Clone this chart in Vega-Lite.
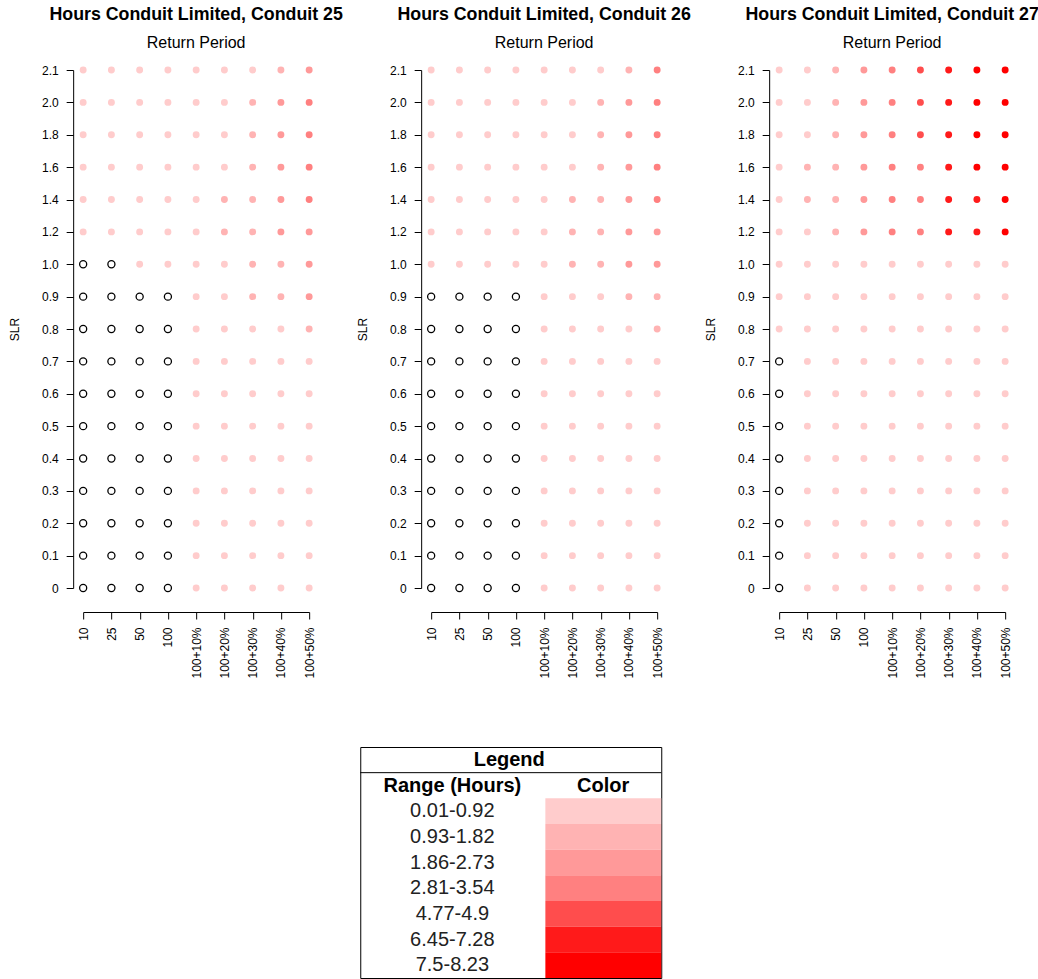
{
  "$schema": "https://vega.github.io/schema/vega-lite/v6.json",
  "background": "white",
  "padding": {"left": 8, "top": 6, "right": 0, "bottom": 0},
  "config": {
    "view": {"stroke": null},
    "font": "Liberation Sans",
    "axis": {"labelColor": "black", "titleColor": "black", "domainColor": "black", "tickColor": "black", "grid": false, "labelFontSize": 12, "titleFontSize": 12, "titleFontWeight": "normal", "tickSize": 7},
    "title": {"color": "black", "subtitleColor": "black", "fontSize": 17.8, "subtitleFontSize": 16, "anchor": "middle", "subtitlePadding": 11, "offset": 13}
  },
  "datasets": {
    "c25": [
      {"slr":"2.1","rp":"10","cls":1},{"slr":"2.1","rp":"25","cls":1},{"slr":"2.1","rp":"50","cls":1},{"slr":"2.1","rp":"100","cls":1},{"slr":"2.1","rp":"100+10%","cls":1},{"slr":"2.1","rp":"100+20%","cls":1},{"slr":"2.1","rp":"100+30%","cls":1},{"slr":"2.1","rp":"100+40%","cls":2},{"slr":"2.1","rp":"100+50%","cls":3},
      {"slr":"2.0","rp":"10","cls":1},{"slr":"2.0","rp":"25","cls":1},{"slr":"2.0","rp":"50","cls":1},{"slr":"2.0","rp":"100","cls":1},{"slr":"2.0","rp":"100+10%","cls":1},{"slr":"2.0","rp":"100+20%","cls":1},{"slr":"2.0","rp":"100+30%","cls":2},{"slr":"2.0","rp":"100+40%","cls":3},{"slr":"2.0","rp":"100+50%","cls":4},
      {"slr":"1.8","rp":"10","cls":1},{"slr":"1.8","rp":"25","cls":1},{"slr":"1.8","rp":"50","cls":1},{"slr":"1.8","rp":"100","cls":1},{"slr":"1.8","rp":"100+10%","cls":1},{"slr":"1.8","rp":"100+20%","cls":1},{"slr":"1.8","rp":"100+30%","cls":2},{"slr":"1.8","rp":"100+40%","cls":3},{"slr":"1.8","rp":"100+50%","cls":4},
      {"slr":"1.6","rp":"10","cls":1},{"slr":"1.6","rp":"25","cls":1},{"slr":"1.6","rp":"50","cls":1},{"slr":"1.6","rp":"100","cls":1},{"slr":"1.6","rp":"100+10%","cls":1},{"slr":"1.6","rp":"100+20%","cls":1},{"slr":"1.6","rp":"100+30%","cls":2},{"slr":"1.6","rp":"100+40%","cls":3},{"slr":"1.6","rp":"100+50%","cls":4},
      {"slr":"1.4","rp":"10","cls":1},{"slr":"1.4","rp":"25","cls":1},{"slr":"1.4","rp":"50","cls":1},{"slr":"1.4","rp":"100","cls":1},{"slr":"1.4","rp":"100+10%","cls":1},{"slr":"1.4","rp":"100+20%","cls":2},{"slr":"1.4","rp":"100+30%","cls":2},{"slr":"1.4","rp":"100+40%","cls":3},{"slr":"1.4","rp":"100+50%","cls":4},
      {"slr":"1.2","rp":"10","cls":1},{"slr":"1.2","rp":"25","cls":1},{"slr":"1.2","rp":"50","cls":1},{"slr":"1.2","rp":"100","cls":1},{"slr":"1.2","rp":"100+10%","cls":1},{"slr":"1.2","rp":"100+20%","cls":2},{"slr":"1.2","rp":"100+30%","cls":2},{"slr":"1.2","rp":"100+40%","cls":3},{"slr":"1.2","rp":"100+50%","cls":3},
      {"slr":"1.0","rp":"10","cls":0},{"slr":"1.0","rp":"25","cls":0},{"slr":"1.0","rp":"50","cls":1},{"slr":"1.0","rp":"100","cls":1},{"slr":"1.0","rp":"100+10%","cls":1},{"slr":"1.0","rp":"100+20%","cls":1},{"slr":"1.0","rp":"100+30%","cls":2},{"slr":"1.0","rp":"100+40%","cls":2},{"slr":"1.0","rp":"100+50%","cls":3},
      {"slr":"0.9","rp":"10","cls":0},{"slr":"0.9","rp":"25","cls":0},{"slr":"0.9","rp":"50","cls":0},{"slr":"0.9","rp":"100","cls":0},{"slr":"0.9","rp":"100+10%","cls":1},{"slr":"0.9","rp":"100+20%","cls":1},{"slr":"0.9","rp":"100+30%","cls":2},{"slr":"0.9","rp":"100+40%","cls":2},{"slr":"0.9","rp":"100+50%","cls":3},
      {"slr":"0.8","rp":"10","cls":0},{"slr":"0.8","rp":"25","cls":0},{"slr":"0.8","rp":"50","cls":0},{"slr":"0.8","rp":"100","cls":0},{"slr":"0.8","rp":"100+10%","cls":1},{"slr":"0.8","rp":"100+20%","cls":1},{"slr":"0.8","rp":"100+30%","cls":1},{"slr":"0.8","rp":"100+40%","cls":1},{"slr":"0.8","rp":"100+50%","cls":2},
      {"slr":"0.7","rp":"10","cls":0},{"slr":"0.7","rp":"25","cls":0},{"slr":"0.7","rp":"50","cls":0},{"slr":"0.7","rp":"100","cls":0},{"slr":"0.7","rp":"100+10%","cls":1},{"slr":"0.7","rp":"100+20%","cls":1},{"slr":"0.7","rp":"100+30%","cls":1},{"slr":"0.7","rp":"100+40%","cls":1},{"slr":"0.7","rp":"100+50%","cls":1},
      {"slr":"0.6","rp":"10","cls":0},{"slr":"0.6","rp":"25","cls":0},{"slr":"0.6","rp":"50","cls":0},{"slr":"0.6","rp":"100","cls":0},{"slr":"0.6","rp":"100+10%","cls":1},{"slr":"0.6","rp":"100+20%","cls":1},{"slr":"0.6","rp":"100+30%","cls":1},{"slr":"0.6","rp":"100+40%","cls":1},{"slr":"0.6","rp":"100+50%","cls":1},
      {"slr":"0.5","rp":"10","cls":0},{"slr":"0.5","rp":"25","cls":0},{"slr":"0.5","rp":"50","cls":0},{"slr":"0.5","rp":"100","cls":0},{"slr":"0.5","rp":"100+10%","cls":1},{"slr":"0.5","rp":"100+20%","cls":1},{"slr":"0.5","rp":"100+30%","cls":1},{"slr":"0.5","rp":"100+40%","cls":1},{"slr":"0.5","rp":"100+50%","cls":1},
      {"slr":"0.4","rp":"10","cls":0},{"slr":"0.4","rp":"25","cls":0},{"slr":"0.4","rp":"50","cls":0},{"slr":"0.4","rp":"100","cls":0},{"slr":"0.4","rp":"100+10%","cls":1},{"slr":"0.4","rp":"100+20%","cls":1},{"slr":"0.4","rp":"100+30%","cls":1},{"slr":"0.4","rp":"100+40%","cls":1},{"slr":"0.4","rp":"100+50%","cls":1},
      {"slr":"0.3","rp":"10","cls":0},{"slr":"0.3","rp":"25","cls":0},{"slr":"0.3","rp":"50","cls":0},{"slr":"0.3","rp":"100","cls":0},{"slr":"0.3","rp":"100+10%","cls":1},{"slr":"0.3","rp":"100+20%","cls":1},{"slr":"0.3","rp":"100+30%","cls":1},{"slr":"0.3","rp":"100+40%","cls":1},{"slr":"0.3","rp":"100+50%","cls":1},
      {"slr":"0.2","rp":"10","cls":0},{"slr":"0.2","rp":"25","cls":0},{"slr":"0.2","rp":"50","cls":0},{"slr":"0.2","rp":"100","cls":0},{"slr":"0.2","rp":"100+10%","cls":1},{"slr":"0.2","rp":"100+20%","cls":1},{"slr":"0.2","rp":"100+30%","cls":1},{"slr":"0.2","rp":"100+40%","cls":1},{"slr":"0.2","rp":"100+50%","cls":1},
      {"slr":"0.1","rp":"10","cls":0},{"slr":"0.1","rp":"25","cls":0},{"slr":"0.1","rp":"50","cls":0},{"slr":"0.1","rp":"100","cls":0},{"slr":"0.1","rp":"100+10%","cls":1},{"slr":"0.1","rp":"100+20%","cls":1},{"slr":"0.1","rp":"100+30%","cls":1},{"slr":"0.1","rp":"100+40%","cls":1},{"slr":"0.1","rp":"100+50%","cls":1},
      {"slr":"0","rp":"10","cls":0},{"slr":"0","rp":"25","cls":0},{"slr":"0","rp":"50","cls":0},{"slr":"0","rp":"100","cls":0},{"slr":"0","rp":"100+10%","cls":1},{"slr":"0","rp":"100+20%","cls":1},{"slr":"0","rp":"100+30%","cls":1},{"slr":"0","rp":"100+40%","cls":1},{"slr":"0","rp":"100+50%","cls":1}
    ],
    "c26": [
      {"slr":"2.1","rp":"10","cls":1},{"slr":"2.1","rp":"25","cls":1},{"slr":"2.1","rp":"50","cls":1},{"slr":"2.1","rp":"100","cls":1},{"slr":"2.1","rp":"100+10%","cls":1},{"slr":"2.1","rp":"100+20%","cls":1},{"slr":"2.1","rp":"100+30%","cls":1},{"slr":"2.1","rp":"100+40%","cls":2},{"slr":"2.1","rp":"100+50%","cls":4},
      {"slr":"2.0","rp":"10","cls":1},{"slr":"2.0","rp":"25","cls":1},{"slr":"2.0","rp":"50","cls":1},{"slr":"2.0","rp":"100","cls":1},{"slr":"2.0","rp":"100+10%","cls":1},{"slr":"2.0","rp":"100+20%","cls":1},{"slr":"2.0","rp":"100+30%","cls":2},{"slr":"2.0","rp":"100+40%","cls":3},{"slr":"2.0","rp":"100+50%","cls":4},
      {"slr":"1.8","rp":"10","cls":1},{"slr":"1.8","rp":"25","cls":1},{"slr":"1.8","rp":"50","cls":1},{"slr":"1.8","rp":"100","cls":1},{"slr":"1.8","rp":"100+10%","cls":1},{"slr":"1.8","rp":"100+20%","cls":1},{"slr":"1.8","rp":"100+30%","cls":2},{"slr":"1.8","rp":"100+40%","cls":3},{"slr":"1.8","rp":"100+50%","cls":4},
      {"slr":"1.6","rp":"10","cls":1},{"slr":"1.6","rp":"25","cls":1},{"slr":"1.6","rp":"50","cls":1},{"slr":"1.6","rp":"100","cls":1},{"slr":"1.6","rp":"100+10%","cls":1},{"slr":"1.6","rp":"100+20%","cls":1},{"slr":"1.6","rp":"100+30%","cls":2},{"slr":"1.6","rp":"100+40%","cls":3},{"slr":"1.6","rp":"100+50%","cls":4},
      {"slr":"1.4","rp":"10","cls":1},{"slr":"1.4","rp":"25","cls":1},{"slr":"1.4","rp":"50","cls":1},{"slr":"1.4","rp":"100","cls":1},{"slr":"1.4","rp":"100+10%","cls":1},{"slr":"1.4","rp":"100+20%","cls":2},{"slr":"1.4","rp":"100+30%","cls":2},{"slr":"1.4","rp":"100+40%","cls":3},{"slr":"1.4","rp":"100+50%","cls":4},
      {"slr":"1.2","rp":"10","cls":1},{"slr":"1.2","rp":"25","cls":1},{"slr":"1.2","rp":"50","cls":1},{"slr":"1.2","rp":"100","cls":1},{"slr":"1.2","rp":"100+10%","cls":1},{"slr":"1.2","rp":"100+20%","cls":2},{"slr":"1.2","rp":"100+30%","cls":2},{"slr":"1.2","rp":"100+40%","cls":3},{"slr":"1.2","rp":"100+50%","cls":3},
      {"slr":"1.0","rp":"10","cls":1},{"slr":"1.0","rp":"25","cls":1},{"slr":"1.0","rp":"50","cls":1},{"slr":"1.0","rp":"100","cls":1},{"slr":"1.0","rp":"100+10%","cls":1},{"slr":"1.0","rp":"100+20%","cls":2},{"slr":"1.0","rp":"100+30%","cls":2},{"slr":"1.0","rp":"100+40%","cls":3},{"slr":"1.0","rp":"100+50%","cls":3},
      {"slr":"0.9","rp":"10","cls":0},{"slr":"0.9","rp":"25","cls":0},{"slr":"0.9","rp":"50","cls":0},{"slr":"0.9","rp":"100","cls":0},{"slr":"0.9","rp":"100+10%","cls":1},{"slr":"0.9","rp":"100+20%","cls":1},{"slr":"0.9","rp":"100+30%","cls":1},{"slr":"0.9","rp":"100+40%","cls":2},{"slr":"0.9","rp":"100+50%","cls":2},
      {"slr":"0.8","rp":"10","cls":0},{"slr":"0.8","rp":"25","cls":0},{"slr":"0.8","rp":"50","cls":0},{"slr":"0.8","rp":"100","cls":0},{"slr":"0.8","rp":"100+10%","cls":1},{"slr":"0.8","rp":"100+20%","cls":1},{"slr":"0.8","rp":"100+30%","cls":1},{"slr":"0.8","rp":"100+40%","cls":1},{"slr":"0.8","rp":"100+50%","cls":2},
      {"slr":"0.7","rp":"10","cls":0},{"slr":"0.7","rp":"25","cls":0},{"slr":"0.7","rp":"50","cls":0},{"slr":"0.7","rp":"100","cls":0},{"slr":"0.7","rp":"100+10%","cls":1},{"slr":"0.7","rp":"100+20%","cls":1},{"slr":"0.7","rp":"100+30%","cls":1},{"slr":"0.7","rp":"100+40%","cls":1},{"slr":"0.7","rp":"100+50%","cls":1},
      {"slr":"0.6","rp":"10","cls":0},{"slr":"0.6","rp":"25","cls":0},{"slr":"0.6","rp":"50","cls":0},{"slr":"0.6","rp":"100","cls":0},{"slr":"0.6","rp":"100+10%","cls":1},{"slr":"0.6","rp":"100+20%","cls":1},{"slr":"0.6","rp":"100+30%","cls":1},{"slr":"0.6","rp":"100+40%","cls":1},{"slr":"0.6","rp":"100+50%","cls":1},
      {"slr":"0.5","rp":"10","cls":0},{"slr":"0.5","rp":"25","cls":0},{"slr":"0.5","rp":"50","cls":0},{"slr":"0.5","rp":"100","cls":0},{"slr":"0.5","rp":"100+10%","cls":1},{"slr":"0.5","rp":"100+20%","cls":1},{"slr":"0.5","rp":"100+30%","cls":1},{"slr":"0.5","rp":"100+40%","cls":1},{"slr":"0.5","rp":"100+50%","cls":1},
      {"slr":"0.4","rp":"10","cls":0},{"slr":"0.4","rp":"25","cls":0},{"slr":"0.4","rp":"50","cls":0},{"slr":"0.4","rp":"100","cls":0},{"slr":"0.4","rp":"100+10%","cls":1},{"slr":"0.4","rp":"100+20%","cls":1},{"slr":"0.4","rp":"100+30%","cls":1},{"slr":"0.4","rp":"100+40%","cls":1},{"slr":"0.4","rp":"100+50%","cls":1},
      {"slr":"0.3","rp":"10","cls":0},{"slr":"0.3","rp":"25","cls":0},{"slr":"0.3","rp":"50","cls":0},{"slr":"0.3","rp":"100","cls":0},{"slr":"0.3","rp":"100+10%","cls":1},{"slr":"0.3","rp":"100+20%","cls":1},{"slr":"0.3","rp":"100+30%","cls":1},{"slr":"0.3","rp":"100+40%","cls":1},{"slr":"0.3","rp":"100+50%","cls":1},
      {"slr":"0.2","rp":"10","cls":0},{"slr":"0.2","rp":"25","cls":0},{"slr":"0.2","rp":"50","cls":0},{"slr":"0.2","rp":"100","cls":0},{"slr":"0.2","rp":"100+10%","cls":1},{"slr":"0.2","rp":"100+20%","cls":1},{"slr":"0.2","rp":"100+30%","cls":1},{"slr":"0.2","rp":"100+40%","cls":1},{"slr":"0.2","rp":"100+50%","cls":1},
      {"slr":"0.1","rp":"10","cls":0},{"slr":"0.1","rp":"25","cls":0},{"slr":"0.1","rp":"50","cls":0},{"slr":"0.1","rp":"100","cls":0},{"slr":"0.1","rp":"100+10%","cls":1},{"slr":"0.1","rp":"100+20%","cls":1},{"slr":"0.1","rp":"100+30%","cls":1},{"slr":"0.1","rp":"100+40%","cls":1},{"slr":"0.1","rp":"100+50%","cls":1},
      {"slr":"0","rp":"10","cls":0},{"slr":"0","rp":"25","cls":0},{"slr":"0","rp":"50","cls":0},{"slr":"0","rp":"100","cls":0},{"slr":"0","rp":"100+10%","cls":1},{"slr":"0","rp":"100+20%","cls":1},{"slr":"0","rp":"100+30%","cls":1},{"slr":"0","rp":"100+40%","cls":1},{"slr":"0","rp":"100+50%","cls":1}
    ],
    "c27": [
      {"slr":"2.1","rp":"10","cls":1},{"slr":"2.1","rp":"25","cls":1},{"slr":"2.1","rp":"50","cls":2},{"slr":"2.1","rp":"100","cls":3},{"slr":"2.1","rp":"100+10%","cls":4},{"slr":"2.1","rp":"100+20%","cls":5},{"slr":"2.1","rp":"100+30%","cls":6},{"slr":"2.1","rp":"100+40%","cls":7},{"slr":"2.1","rp":"100+50%","cls":7},
      {"slr":"2.0","rp":"10","cls":1},{"slr":"2.0","rp":"25","cls":1},{"slr":"2.0","rp":"50","cls":2},{"slr":"2.0","rp":"100","cls":3},{"slr":"2.0","rp":"100+10%","cls":4},{"slr":"2.0","rp":"100+20%","cls":5},{"slr":"2.0","rp":"100+30%","cls":6},{"slr":"2.0","rp":"100+40%","cls":7},{"slr":"2.0","rp":"100+50%","cls":7},
      {"slr":"1.8","rp":"10","cls":1},{"slr":"1.8","rp":"25","cls":1},{"slr":"1.8","rp":"50","cls":2},{"slr":"1.8","rp":"100","cls":3},{"slr":"1.8","rp":"100+10%","cls":4},{"slr":"1.8","rp":"100+20%","cls":5},{"slr":"1.8","rp":"100+30%","cls":6},{"slr":"1.8","rp":"100+40%","cls":7},{"slr":"1.8","rp":"100+50%","cls":7},
      {"slr":"1.6","rp":"10","cls":1},{"slr":"1.6","rp":"25","cls":2},{"slr":"1.6","rp":"50","cls":2},{"slr":"1.6","rp":"100","cls":3},{"slr":"1.6","rp":"100+10%","cls":4},{"slr":"1.6","rp":"100+20%","cls":4},{"slr":"1.6","rp":"100+30%","cls":6},{"slr":"1.6","rp":"100+40%","cls":7},{"slr":"1.6","rp":"100+50%","cls":7},
      {"slr":"1.4","rp":"10","cls":1},{"slr":"1.4","rp":"25","cls":2},{"slr":"1.4","rp":"50","cls":2},{"slr":"1.4","rp":"100","cls":3},{"slr":"1.4","rp":"100+10%","cls":4},{"slr":"1.4","rp":"100+20%","cls":4},{"slr":"1.4","rp":"100+30%","cls":6},{"slr":"1.4","rp":"100+40%","cls":6},{"slr":"1.4","rp":"100+50%","cls":7},
      {"slr":"1.2","rp":"10","cls":1},{"slr":"1.2","rp":"25","cls":1},{"slr":"1.2","rp":"50","cls":2},{"slr":"1.2","rp":"100","cls":3},{"slr":"1.2","rp":"100+10%","cls":4},{"slr":"1.2","rp":"100+20%","cls":4},{"slr":"1.2","rp":"100+30%","cls":6},{"slr":"1.2","rp":"100+40%","cls":6},{"slr":"1.2","rp":"100+50%","cls":7},
      {"slr":"1.0","rp":"10","cls":1},{"slr":"1.0","rp":"25","cls":1},{"slr":"1.0","rp":"50","cls":1},{"slr":"1.0","rp":"100","cls":1},{"slr":"1.0","rp":"100+10%","cls":1},{"slr":"1.0","rp":"100+20%","cls":1},{"slr":"1.0","rp":"100+30%","cls":1},{"slr":"1.0","rp":"100+40%","cls":1},{"slr":"1.0","rp":"100+50%","cls":1},
      {"slr":"0.9","rp":"10","cls":1},{"slr":"0.9","rp":"25","cls":1},{"slr":"0.9","rp":"50","cls":1},{"slr":"0.9","rp":"100","cls":1},{"slr":"0.9","rp":"100+10%","cls":1},{"slr":"0.9","rp":"100+20%","cls":1},{"slr":"0.9","rp":"100+30%","cls":1},{"slr":"0.9","rp":"100+40%","cls":1},{"slr":"0.9","rp":"100+50%","cls":1},
      {"slr":"0.8","rp":"10","cls":1},{"slr":"0.8","rp":"25","cls":1},{"slr":"0.8","rp":"50","cls":1},{"slr":"0.8","rp":"100","cls":1},{"slr":"0.8","rp":"100+10%","cls":1},{"slr":"0.8","rp":"100+20%","cls":1},{"slr":"0.8","rp":"100+30%","cls":1},{"slr":"0.8","rp":"100+40%","cls":1},{"slr":"0.8","rp":"100+50%","cls":1},
      {"slr":"0.7","rp":"10","cls":0},{"slr":"0.7","rp":"25","cls":1},{"slr":"0.7","rp":"50","cls":1},{"slr":"0.7","rp":"100","cls":1},{"slr":"0.7","rp":"100+10%","cls":1},{"slr":"0.7","rp":"100+20%","cls":1},{"slr":"0.7","rp":"100+30%","cls":1},{"slr":"0.7","rp":"100+40%","cls":1},{"slr":"0.7","rp":"100+50%","cls":1},
      {"slr":"0.6","rp":"10","cls":0},{"slr":"0.6","rp":"25","cls":1},{"slr":"0.6","rp":"50","cls":1},{"slr":"0.6","rp":"100","cls":1},{"slr":"0.6","rp":"100+10%","cls":1},{"slr":"0.6","rp":"100+20%","cls":1},{"slr":"0.6","rp":"100+30%","cls":1},{"slr":"0.6","rp":"100+40%","cls":1},{"slr":"0.6","rp":"100+50%","cls":1},
      {"slr":"0.5","rp":"10","cls":0},{"slr":"0.5","rp":"25","cls":1},{"slr":"0.5","rp":"50","cls":1},{"slr":"0.5","rp":"100","cls":1},{"slr":"0.5","rp":"100+10%","cls":1},{"slr":"0.5","rp":"100+20%","cls":1},{"slr":"0.5","rp":"100+30%","cls":1},{"slr":"0.5","rp":"100+40%","cls":1},{"slr":"0.5","rp":"100+50%","cls":1},
      {"slr":"0.4","rp":"10","cls":0},{"slr":"0.4","rp":"25","cls":1},{"slr":"0.4","rp":"50","cls":1},{"slr":"0.4","rp":"100","cls":1},{"slr":"0.4","rp":"100+10%","cls":1},{"slr":"0.4","rp":"100+20%","cls":1},{"slr":"0.4","rp":"100+30%","cls":1},{"slr":"0.4","rp":"100+40%","cls":1},{"slr":"0.4","rp":"100+50%","cls":1},
      {"slr":"0.3","rp":"10","cls":0},{"slr":"0.3","rp":"25","cls":1},{"slr":"0.3","rp":"50","cls":1},{"slr":"0.3","rp":"100","cls":1},{"slr":"0.3","rp":"100+10%","cls":1},{"slr":"0.3","rp":"100+20%","cls":1},{"slr":"0.3","rp":"100+30%","cls":1},{"slr":"0.3","rp":"100+40%","cls":1},{"slr":"0.3","rp":"100+50%","cls":1},
      {"slr":"0.2","rp":"10","cls":0},{"slr":"0.2","rp":"25","cls":1},{"slr":"0.2","rp":"50","cls":1},{"slr":"0.2","rp":"100","cls":1},{"slr":"0.2","rp":"100+10%","cls":1},{"slr":"0.2","rp":"100+20%","cls":1},{"slr":"0.2","rp":"100+30%","cls":1},{"slr":"0.2","rp":"100+40%","cls":1},{"slr":"0.2","rp":"100+50%","cls":1},
      {"slr":"0.1","rp":"10","cls":0},{"slr":"0.1","rp":"25","cls":1},{"slr":"0.1","rp":"50","cls":1},{"slr":"0.1","rp":"100","cls":1},{"slr":"0.1","rp":"100+10%","cls":1},{"slr":"0.1","rp":"100+20%","cls":1},{"slr":"0.1","rp":"100+30%","cls":1},{"slr":"0.1","rp":"100+40%","cls":1},{"slr":"0.1","rp":"100+50%","cls":1},
      {"slr":"0","rp":"10","cls":0},{"slr":"0","rp":"25","cls":1},{"slr":"0","rp":"50","cls":1},{"slr":"0","rp":"100","cls":1},{"slr":"0","rp":"100+10%","cls":1},{"slr":"0","rp":"100+20%","cls":1},{"slr":"0","rp":"100+30%","cls":1},{"slr":"0","rp":"100+40%","cls":1},{"slr":"0","rp":"100+50%","cls":1}
    ],
    "legend": [
      {"range": "0.01-0.92", "cls": 1},
      {"range": "0.93-1.82", "cls": 2},
      {"range": "1.86-2.73", "cls": 3},
      {"range": "2.81-3.54", "cls": 4},
      {"range": "4.77-4.9", "cls": 5},
      {"range": "6.45-7.28", "cls": 6},
      {"range": "7.5-8.23", "cls": 7}
    ]
  },
  "vconcat": [
    {
      "hconcat": [
        {
          "data": {"name": "c25"},
          "width": 226,
          "height": 518,
          "title": {"text": "Hours Conduit Limited, Conduit 25", "subtitle": "Return Period"},
          "encoding": {
            "x": {"field": "rp", "type": "ordinal", "scale": {"type": "point", "padding": 0, "domain": ["10", "25", "50", "100", "100+10%", "100+20%", "100+30%", "100+40%", "100+50%"]}, "axis": {"title": null, "labelAngle": 270, "offset": 24, "labelPadding": 8}},
            "y": {"field": "slr", "type": "ordinal", "scale": {"type": "point", "padding": 0, "domain": ["2.1", "2.0", "1.8", "1.6", "1.4", "1.2", "1.0", "0.9", "0.8", "0.7", "0.6", "0.5", "0.4", "0.3", "0.2", "0.1", "0"]}, "axis": {"title": "SLR", "offset": 10, "labelPadding": 8, "titlePadding": 20}}
          },
          "layer": [
            {"transform": [{"filter": "datum.cls == 0"}], "mark": {"type": "point", "shape": "circle", "filled": false, "stroke": "black", "strokeWidth": 1.3, "size": 50, "opacity": 1}},
            {"transform": [{"filter": "datum.cls > 0"}], "mark": {"type": "circle", "size": 48, "opacity": 1},
             "encoding": {"color": {"field": "cls", "type": "ordinal", "scale": {"domain": [1, 2, 3, 4, 5, 6, 7], "range": ["#FFCCCC", "#FFB3B3", "#FF9999", "#FF8080", "#FF4D4D", "#FF1A1A", "#FF0000"]}, "legend": null}}}
          ]
        },
        {
          "data": {"name": "c26"},
          "width": 226,
          "height": 518,
          "title": {"text": "Hours Conduit Limited, Conduit 26", "subtitle": "Return Period"},
          "encoding": {
            "x": {"field": "rp", "type": "ordinal", "scale": {"type": "point", "padding": 0, "domain": ["10", "25", "50", "100", "100+10%", "100+20%", "100+30%", "100+40%", "100+50%"]}, "axis": {"title": null, "labelAngle": 270, "offset": 24, "labelPadding": 8}},
            "y": {"field": "slr", "type": "ordinal", "scale": {"type": "point", "padding": 0, "domain": ["2.1", "2.0", "1.8", "1.6", "1.4", "1.2", "1.0", "0.9", "0.8", "0.7", "0.6", "0.5", "0.4", "0.3", "0.2", "0.1", "0"]}, "axis": {"title": "SLR", "offset": 10, "labelPadding": 8, "titlePadding": 20}}
          },
          "layer": [
            {"transform": [{"filter": "datum.cls == 0"}], "mark": {"type": "point", "shape": "circle", "filled": false, "stroke": "black", "strokeWidth": 1.3, "size": 50, "opacity": 1}},
            {"transform": [{"filter": "datum.cls > 0"}], "mark": {"type": "circle", "size": 48, "opacity": 1},
             "encoding": {"color": {"field": "cls", "type": "ordinal", "scale": {"domain": [1, 2, 3, 4, 5, 6, 7], "range": ["#FFCCCC", "#FFB3B3", "#FF9999", "#FF8080", "#FF4D4D", "#FF1A1A", "#FF0000"]}, "legend": null}}}
          ]
        },
        {
          "data": {"name": "c27"},
          "width": 226,
          "height": 518,
          "title": {"text": "Hours Conduit Limited, Conduit 27", "subtitle": "Return Period"},
          "encoding": {
            "x": {"field": "rp", "type": "ordinal", "scale": {"type": "point", "padding": 0, "domain": ["10", "25", "50", "100", "100+10%", "100+20%", "100+30%", "100+40%", "100+50%"]}, "axis": {"title": null, "labelAngle": 270, "offset": 24, "labelPadding": 8}},
            "y": {"field": "slr", "type": "ordinal", "scale": {"type": "point", "padding": 0, "domain": ["2.1", "2.0", "1.8", "1.6", "1.4", "1.2", "1.0", "0.9", "0.8", "0.7", "0.6", "0.5", "0.4", "0.3", "0.2", "0.1", "0"]}, "axis": {"title": "SLR", "offset": 10, "labelPadding": 8, "titlePadding": 20}}
          },
          "layer": [
            {"transform": [{"filter": "datum.cls == 0"}], "mark": {"type": "point", "shape": "circle", "filled": false, "stroke": "black", "strokeWidth": 1.3, "size": 50, "opacity": 1}},
            {"transform": [{"filter": "datum.cls > 0"}], "mark": {"type": "circle", "size": 48, "opacity": 1},
             "encoding": {"color": {"field": "cls", "type": "ordinal", "scale": {"domain": [1, 2, 3, 4, 5, 6, 7], "range": ["#FFCCCC", "#FFB3B3", "#FF9999", "#FF8080", "#FF4D4D", "#FF1A1A", "#FF0000"]}, "legend": null}}}
          ]
        }
      ],
      "spacing": 13
    },
    {
      "width": 301,
      "height": 231,
      "view": {"stroke": "black", "strokeWidth": 1},
      "data": {"name": "legend"},
      "encoding": {
        "y": {"field": "range", "type": "ordinal", "scale": {"type": "band", "paddingInner": 0, "paddingOuter": 0, "domain": ["Legend", "Range (Hours)", "0.01-0.92", "0.93-1.82", "1.86-2.73", "2.81-3.54", "4.77-4.9", "6.45-7.28", "7.5-8.23"]},
              "axis": {"orient": "right", "labels": false, "ticks": false, "domain": false, "title": null, "minExtent": 100, "maxExtent": 150}}
      },
      "layer": [
        {"mark": {"type": "rect"},
         "encoding": {
           "x": {"datum": 0.615, "type": "quantitative", "scale": {"domain": [0, 1]}, "axis": null},
           "x2": {"datum": 1},
           "color": {"field": "cls", "type": "ordinal", "scale": {"domain": [1, 2, 3, 4, 5, 6, 7], "range": ["#FFCCCC", "#FFB3B3", "#FF9999", "#FF8080", "#FF4D4D", "#FF1A1A", "#FF0000"]}, "legend": null}
         }},
        {"mark": {"type": "text", "fontSize": 20, "color": "#222222"},
         "encoding": {"x": {"datum": 0.306, "type": "quantitative"}, "text": {"field": "range"}}},
        {"data": {"values": [{"label": "Legend"}]},
         "mark": {"type": "text", "fontSize": 20, "fontWeight": "bold", "color": "black"},
         "encoding": {"x": {"datum": 0.495, "type": "quantitative"}, "y": {"datum": "Legend"}, "text": {"field": "label"}}},
        {"data": {"values": [{"label": "Range (Hours)"}]},
         "mark": {"type": "text", "fontSize": 20, "fontWeight": "bold", "color": "black"},
         "encoding": {"x": {"datum": 0.306, "type": "quantitative"}, "y": {"datum": "Range (Hours)"}, "text": {"field": "label"}}},
        {"data": {"values": [{"label": "Color"}]},
         "mark": {"type": "text", "fontSize": 20, "fontWeight": "bold", "color": "black"},
         "encoding": {"x": {"datum": 0.807, "type": "quantitative"}, "y": {"datum": "Range (Hours)"}, "text": {"field": "label"}}},
        {"data": {"values": [{"label": "Legend"}]},
         "mark": {"type": "rule", "color": "black", "strokeWidth": 1},
         "encoding": {"x": {"datum": 0, "type": "quantitative"}, "x2": {"datum": 1}, "y": {"datum": "Range (Hours)", "bandPosition": 0}}}
      ]
    }
  ],
  "spacing": 67,
  "center": true
}
